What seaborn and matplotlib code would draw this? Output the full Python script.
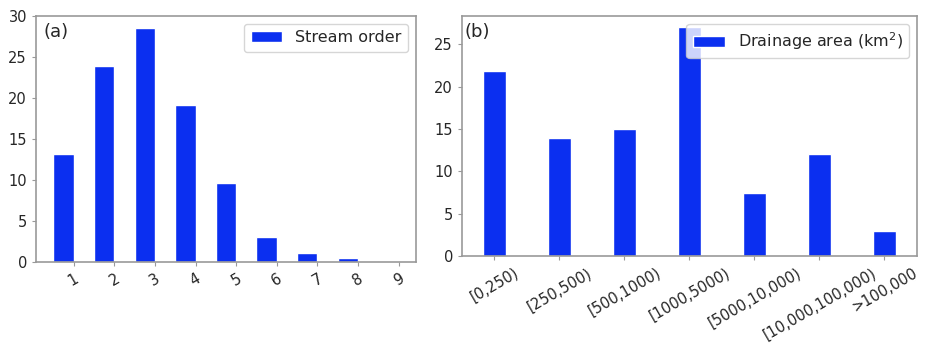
import numpy as np
import matplotlib
matplotlib.use("Agg")
import matplotlib.pyplot as plt
import seaborn as sns

sns.set_style("white", {"axes.edgecolor": "0.6", "xtick.bottom": True, "ytick.left": True,
                        "xtick.color": "0.6", "ytick.color": "0.6"})
plt.rcParams["font.family"] = ["DejaVu Sans"]

# panel (a): stream order share (%)
orders = ["1", "2", "3", "4", "5", "6", "7", "8", "9"]
order_pct = [13.2, 24.0, 28.6, 19.2, 9.7, 3.1, 1.1, 0.5, 0.1]

# panel (b): drainage area share (%)
area_bins = ["[0,250)", "[250,500)", "[500,1000)", "[1000,5000)",
             "[5000,10,000)", "[10,000,100,000)", ">100,000"]
area_pct = [21.8, 13.9, 15.0, 27.0, 7.4, 12.0, 2.9]

blue = "#0b2ff0"

fig = plt.figure(figsize=(9.28, 3.43), dpi=100)
ax1 = fig.add_axes([0.0388, 0.236, 0.4095, 0.717])
ax2 = fig.add_axes([0.4978, 0.2536, 0.4903, 0.70])

# --- (a) ---
sns.barplot(x=orders, y=order_pct, color=blue, saturation=1, width=0.5,
            label="Stream order", ax=ax1)
n = len(orders)
ax1.set_xticks(np.arange(n) + 0.25, orders, rotation=30, ha="center")
ax1.set_xlim(-0.675, n - 1 + 0.675)
ax1.set_ylim(0, max(order_pct) * 1.05)
ax1.set_yticks([0, 5, 10, 15, 20, 25, 30])
ax1.legend(loc="upper right", fontsize=11.5)
ax1.text(0.02, 0.97, "(a)", transform=ax1.transAxes, fontsize=13, va="top", ha="left")

# --- (b) ---
sns.barplot(x=area_bins, y=area_pct, color=blue, saturation=1, width=0.35,
            label="Drainage area (km$^2$)", ax=ax2)
ax2.set_xlim(-0.5, len(area_bins) - 0.5)
ax2.set_ylim(0, max(area_pct) * 1.05)
ax2.set_yticks([0, 5, 10, 15, 20, 25])
ax2.tick_params(axis="x", rotation=30)
for lab in ax2.get_xticklabels():
    lab.set_ha("center")
ax2.legend(loc="upper right", fontsize=11.5)
ax2.text(0.005, 0.97, "(b)", transform=ax2.transAxes, fontsize=13, va="top", ha="left")

for ax in (ax1, ax2):
    ax.tick_params(labelsize=10.5, labelcolor="0.15", length=3)
    ax.set_xlabel("")
    ax.set_ylabel("")
    for s in ax.spines.values():
        s.set_linewidth(1.2)

fig.savefig("out.png", dpi=100)
